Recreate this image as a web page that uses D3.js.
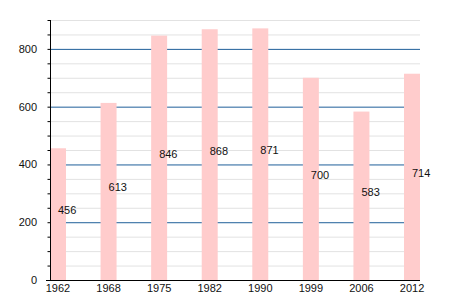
<!DOCTYPE html>
<html lang="en">
<head>
  <meta charset="UTF-8">
  <title>Population</title>
  <script src="https://cdn.jsdelivr.net/npm/d3@7"></script>
  <style>
    body { margin: 0; background: #fff; }
    text { font-family: "Liberation Sans", Arial, sans-serif; font-size: 11px; fill: #111; }
  </style>
</head>
<body>
  <div id="chart"></div>
  <script>
    const years = ['1962', '1968', '1975', '1982', '1990', '1999', '2006', '2012'];
    const values = [456, 613, 846, 868, 871, 700, 583, 714];
    const yTicks = [0, 200, 400, 600, 800];

    const width = 450, height = 300;
    const plotLeft = 50, plotRight = 420, plotTop = 20, plotBottom = 280;

    const svg = d3.select('#chart').append('svg')
      .attr('width', width)
      .attr('height', height);

    const x = d3.scaleBand()
      .domain(years)
      .range([plotLeft, plotRight])
      .paddingInner(0.684)
      .paddingOuter(0);

    const y = d3.scaleLinear()
      .domain([0, 900])
      .range([plotBottom, plotTop]);

    // minor grid every 50
    const minor = d3.range(50, 901, 50).filter(v => v % 200 !== 0);
    svg.append('g').selectAll('line')
      .data(minor)
      .join('line')
      .attr('x1', plotLeft).attr('x2', plotRight)
      .attr('y1', d => y(d) + 0.5).attr('y2', d => y(d) + 0.5)
      .attr('stroke', '#e2e2e2');

    svg.append('g').selectAll('line')
      .data(yTicks.filter(v => v > 0))
      .join('line')
      .attr('x1', plotLeft).attr('x2', plotRight)
      .attr('y1', d => y(d) + 0.5).attr('y2', d => y(d) + 0.5)
      .attr('stroke', '#1f5f99');

    // bars
    svg.append('g').selectAll('rect')
      .data(values)
      .join('rect')
      .attr('x', (d, i) => x(years[i]))
      .attr('y', d => y(d))
      .attr('width', x.bandwidth())
      .attr('height', d => y(0) - y(d))
      .attr('fill', '#ffcccc');

    // value labels
    svg.append('g').selectAll('text')
      .data(values)
      .join('text')
      .attr('x', (d, i) => x(years[i]) + x.bandwidth() / 2)
      .attr('y', d => y(d / 2))
      .text(d => d);

    // y axis
    const yAxis = svg.append('g')
      .attr('transform', `translate(${plotLeft + 0.5},0)`)
      .call(d3.axisLeft(y).tickValues(d3.range(0, 901, 50)).tickSize(3).tickFormat(''));
    yAxis.select('.domain').attr('d', `M0,${plotTop}V${plotBottom}`).attr('stroke', '#000');
    yAxis.selectAll('line').attr('stroke', '#000');

    svg.append('g')
      .selectAll('text')
      .data(yTicks)
      .join('text')
      .attr('x', 37)
      .attr('y', d => y(d) + 4)
      .attr('text-anchor', 'end')
      .text(d => d);

    // x axis
    const xAxis = svg.append('g')
      .attr('transform', `translate(0,${plotBottom + 0.5})`)
      .call(d3.axisBottom(x).tickSize(0).tickPadding(4));
    xAxis.select('.domain').attr('d', `M${plotLeft - 4},0H${plotRight}`).attr('stroke', '#000');
    xAxis.selectAll('text')
      .style('font-family', '"Liberation Sans", Arial, sans-serif')
      .style('font-size', '11px')
      .attr('fill', '#111');
  </script>
</body>
</html>
